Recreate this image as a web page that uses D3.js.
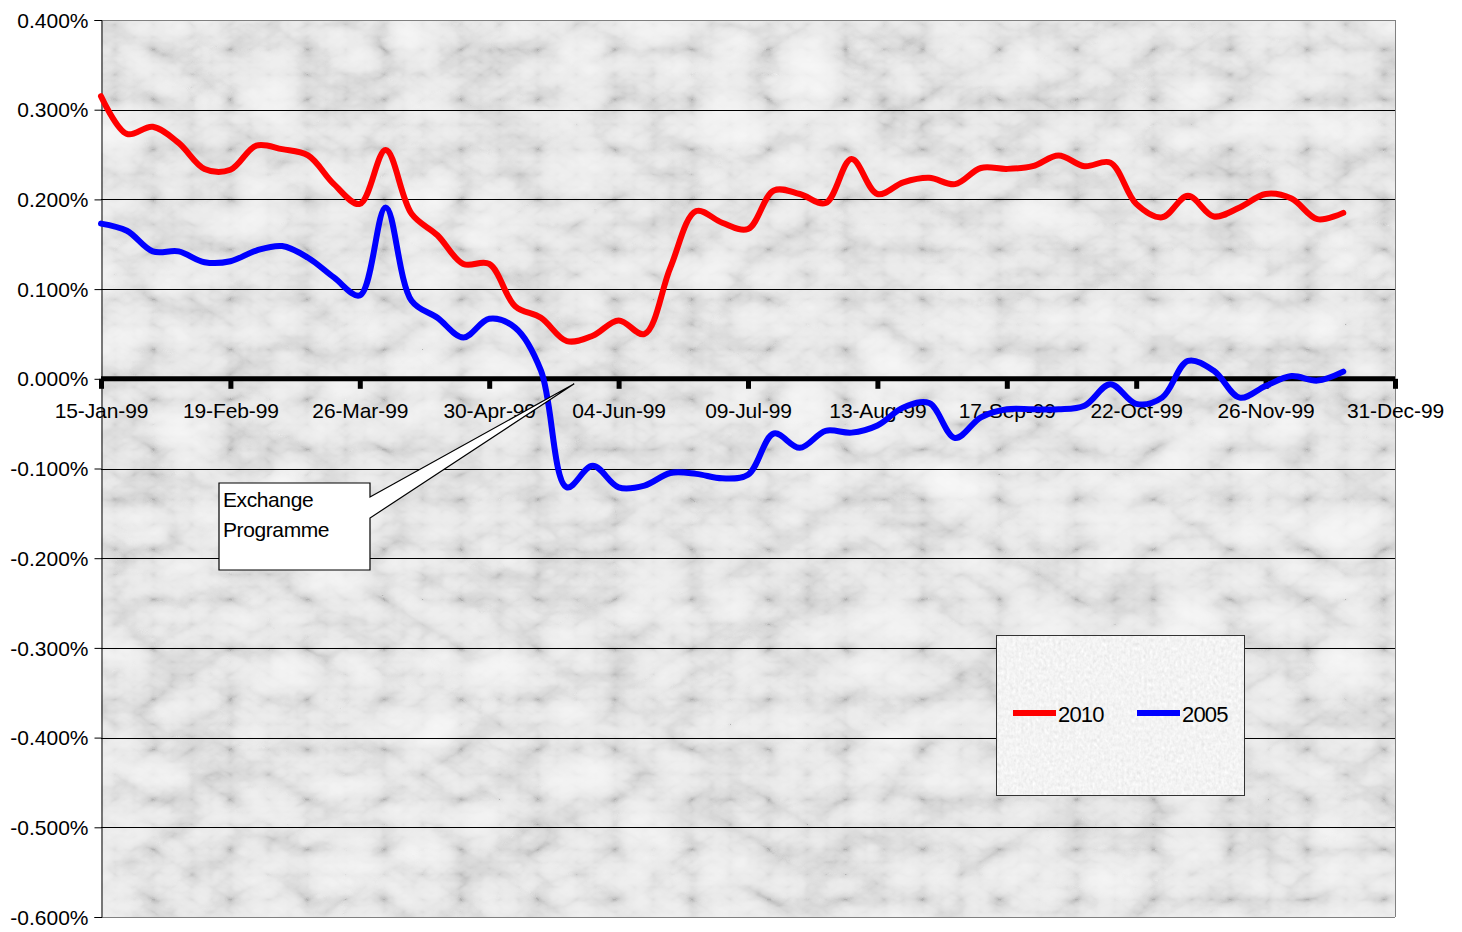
<!DOCTYPE html>
<html>
<head>
<meta charset="utf-8">
<script src="https://cdn.jsdelivr.net/npm/d3@7"></script>
<style>
  html, body { margin: 0; padding: 0; background: #ffffff; }
  svg { display: block; font-family: "Liberation Sans", Arial, sans-serif; }
</style>
</head>
<body>
<svg id="chart" width="1462" height="932"></svg>
<script>
// Weekly spread series, in percent, starting 15-Jan-99
const startDate = "1999-01-15";
const series2010 = [
  0.315, 0.273, 0.281, 0.263, 0.234, 0.233, 0.260, 0.256, 0.249, 0.217,
  0.195, 0.255, 0.184, 0.160, 0.128, 0.128, 0.081, 0.068, 0.042, 0.048,
  0.065, 0.050, 0.124, 0.187, 0.174, 0.167, 0.210, 0.206, 0.196, 0.245,
  0.206, 0.219, 0.224, 0.217, 0.235, 0.234, 0.237, 0.249, 0.237, 0.241,
  0.195, 0.180, 0.204, 0.181, 0.191, 0.206, 0.201, 0.178, 0.185
];
const series2005 = [
  0.173, 0.165, 0.142, 0.142, 0.130, 0.131, 0.143, 0.148, 0.135, 0.113,
  0.093, 0.191, 0.087, 0.068, 0.046, 0.067, 0.057, 0.009, -0.121, -0.097,
  -0.121, -0.119, -0.105, -0.106, -0.111, -0.107, -0.061, -0.077, -0.058, -0.060,
  -0.052, -0.032, -0.027, -0.066, -0.043, -0.034, -0.034, -0.034, -0.030, -0.006,
  -0.028, -0.021, 0.020, 0.009, -0.021, -0.008, 0.003, -0.002, 0.008
];
const seriesNames = ["2010", "2005"];
const seriesColors = ["#ff0000", "#0000ff"];
const xTickLabels = ["15-Jan-99", "19-Feb-99", "26-Mar-99", "30-Apr-99", "04-Jun-99",
  "09-Jul-99", "13-Aug-99", "17-Sep-99", "22-Oct-99", "26-Nov-99", "31-Dec-99"];
const yTicks = [0.4, 0.3, 0.2, 0.1, 0.0, -0.1, -0.2, -0.3, -0.4, -0.5, -0.6];
const annotationLines = ["Exchange", "Programme"];
const annotationDate = "1999-05-23";

const parseTick = d3.timeParse("%d-%b-%y");
const parseIso = d3.timeParse("%Y-%m-%d");
const t0 = parseIso(startDate);
const dates = series2010.map((_, i) => d3.timeDay.offset(t0, 7 * i));
const tickDates = xTickLabels.map(parseTick);

const margin = { left: 101, right: 1395, top: 20, bottom: 917 };
const svg = d3.select("#chart");

const x = d3.scaleTime()
  .domain([tickDates[0], tickDates[tickDates.length - 1]])
  .range([margin.left, margin.right]);
const y = d3.scaleLinear().domain([-0.6, 0.4]).range([margin.bottom, margin.top]);

// ---- textures ----
const defs = svg.append("defs");
const grayMatrix = "0.33 0.33 0.33 0 0  0.33 0.33 0.33 0 0  0.33 0.33 0.33 0 0  0 0 0 0 1";
const marble = defs.append("filter").attr("id", "marble")
  .attr("x", 0).attr("y", 0).attr("width", 1).attr("height", 1);
marble.append("feTurbulence").attr("type", "turbulence")
  .attr("baseFrequency", "0.013 0.02").attr("numOctaves", 4).attr("seed", 7)
  .attr("result", "t");
marble.append("feColorMatrix").attr("in", "t").attr("type", "matrix")
  .attr("values", grayMatrix).attr("result", "g");
const ct = marble.append("feComponentTransfer").attr("in", "g");
["feFuncR", "feFuncG", "feFuncB"].forEach(f =>
  ct.append(f).attr("type", "table").attr("tableValues", "0.45 0.68 0.81 0.88 0.92 0.95 0.97"));

const grain = defs.append("filter").attr("id", "grain")
  .attr("x", 0).attr("y", 0).attr("width", 1).attr("height", 1);
grain.append("feTurbulence").attr("type", "fractalNoise")
  .attr("baseFrequency", "0.35 0.25").attr("numOctaves", 2).attr("seed", 3).attr("result", "n");
grain.append("feColorMatrix").attr("in", "n").attr("type", "matrix")
  .attr("values", grayMatrix).attr("result", "ng");
const ct2 = grain.append("feComponentTransfer").attr("in", "ng");
["feFuncR", "feFuncG", "feFuncB"].forEach(f =>
  ct2.append(f).attr("type", "linear").attr("slope", 0.4).attr("intercept", 0.70));

// ---- plot background ----
svg.append("rect")
  .attr("x", margin.left).attr("y", margin.top)
  .attr("width", margin.right - margin.left).attr("height", margin.bottom - margin.top)
  .attr("fill", "#eee").attr("filter", "url(#marble)");

// gridlines
svg.append("g").selectAll("line").data(yTicks.filter(v => v !== 0)).join("line")
  .attr("x1", margin.left).attr("x2", margin.right)
  .attr("y1", d => Math.round(y(d)) + 0.5).attr("y2", d => Math.round(y(d)) + 0.5)
  .attr("stroke", d => (d === 0.4 ? "#808080" : "#000")).attr("stroke-width", 1);

// plot border right / bottom
svg.append("line").attr("x1", margin.right + 0.5).attr("x2", margin.right + 0.5)
  .attr("y1", margin.top).attr("y2", margin.bottom).attr("stroke", "#808080");
svg.append("line").attr("x1", margin.left).attr("x2", margin.right)
  .attr("y1", margin.bottom + 0.5).attr("y2", margin.bottom + 0.5).attr("stroke", "#808080");

// y axis
const pct = d3.format(".3f");
const yAxis = d3.axisLeft(y).tickValues(yTicks).tickSize(7).tickPadding(6)
  .tickFormat(d => pct(d).replace("\u2212", "-") + "%");
const gy = svg.append("g").attr("transform", `translate(${margin.left + 0.5},0)`).call(yAxis);
gy.select(".domain").attr("stroke", "#000");
gy.selectAll(".tick line").attr("stroke", "#000");
gy.selectAll(".tick text").attr("font-size", 21).attr("letter-spacing", "0px")
  .attr("fill", "#000").attr("font-family", "Liberation Sans, Arial, sans-serif")
  .attr("dy", "0.34em");

// zero axis (dates)
const xAxis = d3.axisBottom(x).tickValues(tickDates).tickSize(10).tickPadding(14)
  .tickFormat(d3.timeFormat("%d-%b-%y"));
const gx = svg.append("g").attr("transform", `translate(0,${y(0)})`).call(xAxis);
gx.select(".domain").attr("stroke", "#000").attr("stroke-width", 5)
  .attr("d", `M${margin.left},0H${margin.right}`);
gx.selectAll(".tick line").attr("stroke", "#000").attr("stroke-width", 5);
gx.selectAll(".tick text").attr("font-size", 21).attr("letter-spacing", "-0.1px")
  .attr("fill", "#000").attr("font-family", "Liberation Sans, Arial, sans-serif");

// ---- series ----
const line = d3.line()
  .x((d, i) => x(dates[i]))
  .y(d => y(d))
  .curve(d3.curveCatmullRom.alpha(0.5));
[series2010, series2005].forEach((s, k) => {
  svg.append("path").datum(s)
    .attr("d", line)
    .attr("fill", "none")
    .attr("stroke", seriesColors[k])
    .attr("stroke-width", 6)
    .attr("stroke-linejoin", "round")
    .attr("stroke-linecap", "round");
});

// ---- annotation callout ----
const box = { x: 219, y: 483, w: 151, h: 87 };
const tip = [x(parseIso(annotationDate)), y(0) + 5];
svg.append("path")
  .attr("d", `M${box.x},${box.y}H${box.x + box.w}V${box.y + 14}L${tip[0]},${tip[1]}L${box.x + box.w},${box.y + 35}V${box.y + box.h}H${box.x}Z`)
  .attr("fill", "#fff").attr("stroke", "#000").attr("stroke-width", 1.2);
svg.append("text").attr("x", box.x + 4).attr("y", box.y + 24)
  .attr("font-size", 21).attr("letter-spacing", "-0.4px")
  .selectAll("tspan").data(annotationLines).join("tspan")
  .attr("x", box.x + 4).attr("dy", (d, i) => (i === 0 ? 0 : 30)).text(d => d);

// ---- legend ----
const lg = svg.append("g").attr("transform", "translate(996,635)");
lg.append("rect").attr("x", 0.5).attr("y", 0.5).attr("width", 248).attr("height", 160)
  .attr("fill", "#eee").attr("filter", "url(#grain)");
lg.append("rect").attr("x", 0.5).attr("y", 0.5).attr("width", 248).attr("height", 160)
  .attr("fill", "none").attr("stroke", "#333");
seriesNames.forEach((name, k) => {
  const ox = 17 + k * 124;
  lg.append("line").attr("x1", ox).attr("x2", ox + 43).attr("y1", 78).attr("y2", 78)
    .attr("stroke", seriesColors[k]).attr("stroke-width", 6);
  lg.append("text").attr("x", ox + 45).attr("y", 87).attr("font-size", 22)
    .attr("letter-spacing", "-0.8px").attr("fill", "#000").text(name);
});
</script>
</body>
</html>
